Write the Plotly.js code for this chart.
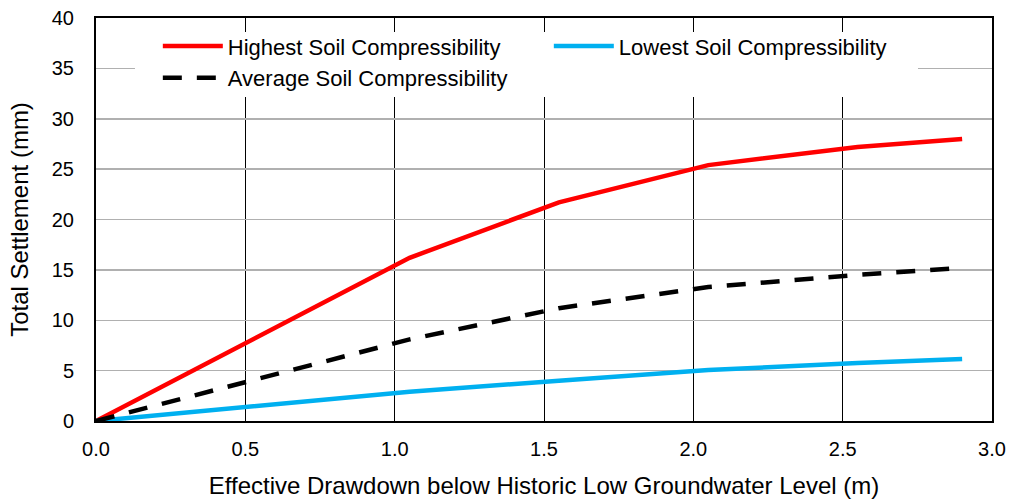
<!DOCTYPE html>
<html>
<head>
<meta charset="utf-8">
<script src="https://cdn.plot.ly/plotly-3.0.1.min.js"></script>
<style>html,body{margin:0;padding:0;background:#fff;}#chart{width:1012px;height:503px;}</style>
</head>
<body>
<div id="chart"></div>
<script>
// Data
const drawdown = [0, 1.05, 1.55, 2.05, 2.55, 2.9];
const highestSettlement = [0, 16.2, 21.7, 25.4, 27.2, 28.0];
const lowestSettlement = [0, 2.9, 4.0, 5.05, 5.75, 6.15];
const averageSettlement = [0, 8.1, 11.2, 13.3, 14.5, 15.2];
const seriesNames = ["Highest Soil Compressibility", "Lowest Soil Compressibility", "Average Soil Compressibility"];
const xTickVals = [0, 0.5, 1.0, 1.5, 2.0, 2.5, 3.0];
const yTickVals = [0, 5, 10, 15, 20, 25, 30, 35, 40];

const FONT = "Liberation Sans, Arial, sans-serif";

const traces = [
  {x: drawdown, y: highestSettlement, name: seriesNames[0], mode: "lines",
   line: {color: "#ff0000", width: 4.5}},
  {x: drawdown, y: lowestSettlement, name: seriesNames[1], mode: "lines",
   line: {color: "#00b0f0", width: 4.5}},
  {x: drawdown, y: averageSettlement, name: seriesNames[2], mode: "lines",
   line: {color: "#000000", width: 4.5, dash: "19px,15px"}}
];

const layout = {
  width: 1012, height: 503,
  margin: {l: 96, r: 20, t: 18, b: 82},
  paper_bgcolor: "#ffffff", plot_bgcolor: "#ffffff",
  font: {family: FONT, color: "#000000", size: 20},
  showlegend: true,
  legend: {
    orientation: "h", x: 0.069, xanchor: "left", y: 0.982, yanchor: "top",
    bgcolor: "rgba(0,0,0,0)", borderwidth: 0,
    font: {family: FONT, size: 22, color: "#000"},
    itemwidth: 60, entrywidth: 316, entrywidthmode: "pixels",
    traceorder: "normal"
  },
  xaxis: {
    range: [0, 3], tickvals: xTickVals, tickformat: ".1f",
    showgrid: true, gridcolor: "#000000", gridwidth: 1,
    showline: true, linecolor: "#000000", linewidth: 2, mirror: true,
    zeroline: false, ticks: "", ticklabelstandoff: 9,
    tickfont: {family: FONT, size: 20},
    title: {text: "Effective Drawdown below Historic Low Groundwater Level (m)",
            font: {family: FONT, size: 24}, standoff: 18}
  },
  yaxis: {
    range: [0, 40], tickvals: yTickVals,
    showgrid: true, gridcolor: "#b0b0b0", gridwidth: 1.5,
    showline: true, linecolor: "#000000", linewidth: 2, mirror: true,
    zeroline: false, ticks: "", ticklabelstandoff: 16,
    tickfont: {family: FONT, size: 20},
    title: {text: "Total Settlement (mm)", font: {family: FONT, size: 24}, standoff: 16}
  },
  shapes: [{
    type: "rect", xref: "paper", yref: "paper", layer: "above",
    x0: 0.0435, x1: 0.9174, y0: 0.804, y1: 0.965,
    fillcolor: "#ffffff", line: {width: 0}
  }]
};

Plotly.newPlot("chart", traces, layout, {displayModeBar: false, staticPlot: true});
</script>
</body>
</html>
